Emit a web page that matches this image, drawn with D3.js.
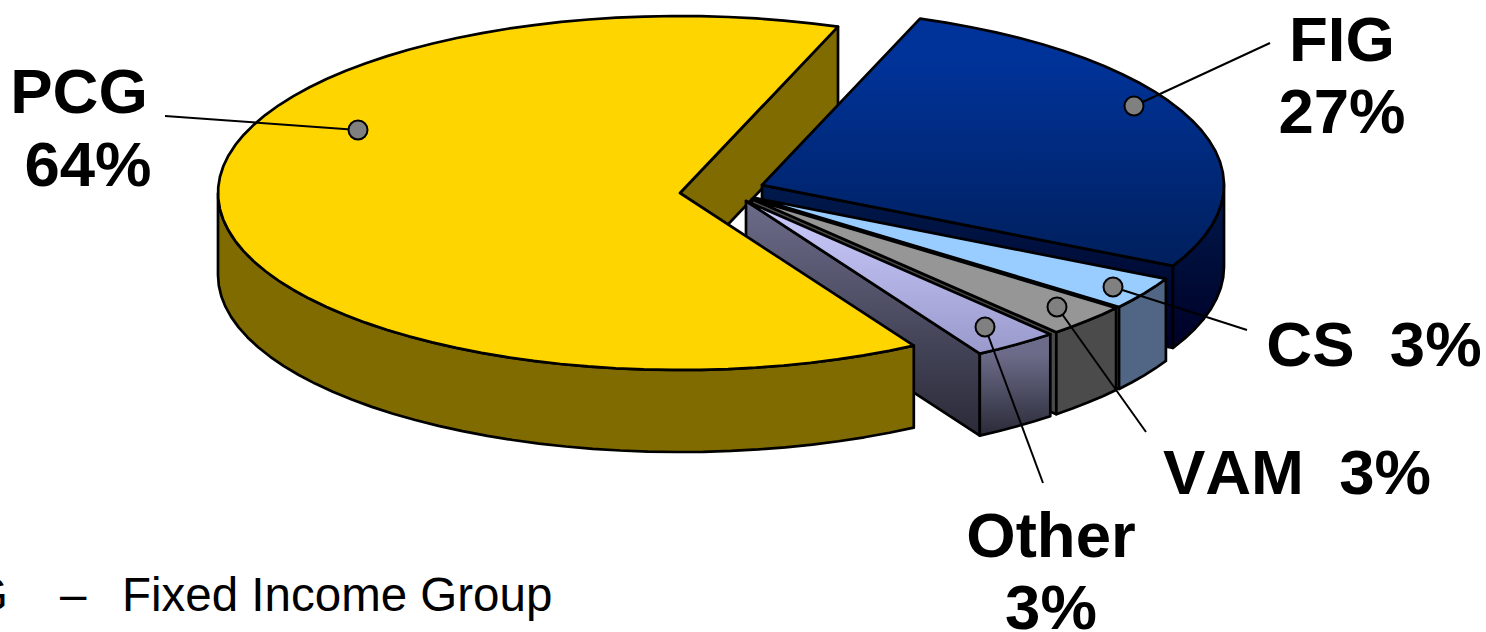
<!DOCTYPE html>
<html>
<head>
<meta charset="utf-8">
<script src="https://cdn.jsdelivr.net/npm/d3@7/dist/d3.min.js"></script>
<style>
  html, body { margin: 0; padding: 0; background: #fff; }
  svg { display: block; }
  text { font-family: "Liberation Sans", Arial, sans-serif; fill: #000; white-space: pre; font-kerning: none; }
</style>
</head>
<body>
<svg id="chart" width="1486" height="632"></svg>
<script>
// Revenue share by business group
const categories = ["PCG", "FIG", "CS", "VAM", "Other"];
const shares = [64, 27, 3, 3, 3];

// Geometry of the tilted pie
const W = 1486, H = 632;
const radiusX = 462, radiusY = 177, depth = 82;
const firstSliceStart = 149.6 * Math.PI / 180;
const apexes = [[680, 193], [762, 185], [755, 198], [752, 199], [746, 201]];

// Face colours per slice: [top start, top stop], [side start, side stop]
const faces = [
  { top: ["#FFD500", "#FFD500"], side: ["#806B00", "#806B00"] },
  { top: ["#003399", "#001F5C"], side: ["#001A4D", "#000026"] },
  { top: ["#99CCFF", "#99CCFF"], side: ["#506684", "#506684"] },
  { top: ["#969696", "#969696"], side: ["#4B4B4B", "#4B4B4B"] },
  { top: ["#CCCCFF", "#9999CC"], side: ["#6C6C8A", "#2A2A38"] }
];

// Label placement: text lines with anchors, then leader start and marker centre
const callouts = [
  { lines: [["PCG", 79, 113], ["64%", 88, 186]], leader: [165, 116], marker: [358, 130] },
  { lines: [["FIG", 1342, 61], ["27%", 1342, 133]], leader: [1270, 43], marker: [1134, 106] },
  { lines: [["CS  3%", 1374, 366]], leader: [1247, 330], marker: [1113, 287] },
  { lines: [["VAM  3%", 1297, 494]], leader: [1146, 432], marker: [1057, 307] },
  { lines: [["Other", 1051, 557], ["3%", 1051, 629]], leader: [1043, 483], marker: [985, 327] }
];

const svg = d3.select("#chart").attr("viewBox", [0, 0, W, H]);
const defs = svg.append("defs");

const pie = d3.pie().sort(null)
  .startAngle(firstSliceStart)
  .endAngle(firstSliceStart + 2 * Math.PI);
const arcs = pie(shares);

// Unit circle to ellipse offsets
const sx = d3.scaleLinear().domain([-1, 1]).range([-radiusX, radiusX]);
const sy = d3.scaleLinear().domain([-1, 1]).range([-radiusY, radiusY]);
const rim = (apex, a, drop = 0) => [apex[0] + sx(Math.sin(a)), apex[1] + sy(-Math.cos(a)) + drop];
const line = d3.line().curve(d3.curveLinear);
const STEP = 3.5 * Math.PI / 180;

function rimPoints(apex, a0, a1, drop) {
  const n = Math.max(1, Math.ceil((a1 - a0) / STEP));
  return d3.range(n + 1).map(i => rim(apex, a0 + (a1 - a0) * i / n, drop));
}

function gradient(id, stops, y1, y2) {
  const g = defs.append("linearGradient").attr("id", id)
    .attr("gradientUnits", "userSpaceOnUse")
    .attr("x1", 0).attr("x2", 0).attr("y1", y1).attr("y2", y2);
  g.append("stop").attr("offset", 0).attr("stop-color", stops[0]);
  g.append("stop").attr("offset", 1).attr("stop-color", stops[1]);
  return `url(#${id})`;
}

function face(layer, pts, fill) {
  layer.append("path").attr("d", line(pts) + "Z")
    .attr("fill", fill).attr("stroke", "#000")
    .attr("stroke-width", 2.7).attr("stroke-linejoin", "round");
}

// Cut face along one radial edge, extruded downwards
function cutFace(layer, apex, a, fill) {
  const tip = rim(apex, a);
  face(layer, [apex, tip, [tip[0], tip[1] + depth], [apex[0], apex[1] + depth]], fill);
}

// Visible front part of the outer wall: only angles facing the viewer
function outerWall(layer, apex, a0, a1, fill) {
  const tau = 2 * Math.PI;
  [[Math.PI / 2, 1.5 * Math.PI], [Math.PI / 2 + tau, 1.5 * Math.PI + tau]].forEach(([lo, hi]) => {
    const s = Math.max(a0, lo), e = Math.min(a1, hi);
    if (s < e) face(layer, [...rimPoints(apex, s, e, 0), ...rimPoints(apex, s, e, depth).reverse()], fill);
  });
}

function topFace(layer, apex, a0, a1, fill) {
  face(layer, [apex, ...rimPoints(apex, a0, a1, 0)], fill);
}

const plot = svg.append("g");

// The wall behind the largest slice sits under everything else
const yellow = arcs[0];
cutFace(plot, apexes[0], yellow.endAngle, faces[0].side[0]);

// Exploded slices painted back to front
[1, 2, 3, 4].forEach(i => {
  const d = arcs[i], apex = apexes[i], f = faces[i];
  const topY = Math.min(apex[1], rim(apex, d.startAngle)[1], rim(apex, d.endAngle)[1]);
  const bottomY = Math.max(apex[1], rim(apex, d.endAngle)[1]);
  const wallFill = i === 1
    ? gradient("wall" + i, f.side, apex[1], apex[1] + 165)
    : gradient("wall" + i, f.side, bottomY, bottomY + depth);
  const cutFill = gradient("cut" + i, f.side, apex[1], bottomY + depth);
  cutFace(plot, apex, d.endAngle, cutFill);
  outerWall(plot, apex, d.startAngle, d.endAngle, wallFill);
  topFace(plot, apex, d.startAngle, d.endAngle, gradient("top" + i, f.top, topY + (i === 1 ? 40 : 0), bottomY));
});

// The largest slice overlaps the side of its neighbour
outerWall(plot, apexes[0], yellow.startAngle, yellow.endAngle, faces[0].side[0]);
topFace(plot, apexes[0], yellow.startAngle, yellow.endAngle, faces[0].top[0]);

// Leaders, markers and labels
const notes = svg.append("g");
callouts.forEach(c => {
  notes.append("line")
    .attr("x1", c.leader[0]).attr("y1", c.leader[1])
    .attr("x2", c.marker[0]).attr("y2", c.marker[1])
    .attr("stroke", "#000").attr("stroke-width", 2);
  notes.append("circle")
    .attr("cx", c.marker[0]).attr("cy", c.marker[1]).attr("r", 9.5)
    .attr("fill", "#808080").attr("stroke", "#000").attr("stroke-width", 2);
  c.lines.forEach(([label, x, y]) => {
    notes.append("text").attr("x", x).attr("y", y)
      .attr("text-anchor", "middle")
      .attr("font-size", 63.5).attr("font-weight", 700)
      .text(label);
  });
});

// Footnote, running off the left edge of the page
const note = svg.append("g").attr("font-size", 47.5);
note.append("text").attr("x", 8).attr("y", 611).attr("text-anchor", "end").text("FIG");
note.append("text").attr("x", 60).attr("y", 611).text("–");
note.append("text").attr("x", 122).attr("y", 611).text("Fixed Income Group");
</script>
</body>
</html>
